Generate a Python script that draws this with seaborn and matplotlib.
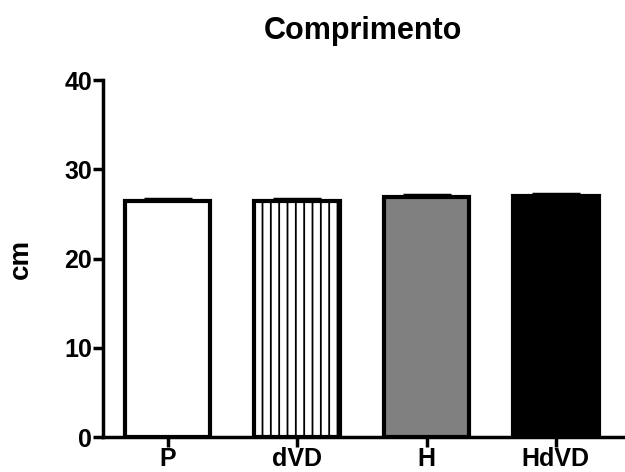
import numpy as np
import pandas as pd
import matplotlib
matplotlib.use("Agg")
import matplotlib.pyplot as plt
import seaborn as sns

# Values
groups = ["P", "dVD", "H", "HdVD"]
means = [26.5, 26.5, 26.9, 27.0]
sems = [0.2, 0.2, 0.2, 0.2]
fills = ["white", "white", "#808080", "black"]
hatches = ["", "||", "", ""]

sns.set_style("ticks")
plt.rcParams["font.family"] = ["Liberation Sans", "DejaVu Sans"]
plt.rcParams["hatch.linewidth"] = 1.3
plt.rcParams["hatch.color"] = "black"
plt.rcParams["text.color"] = "black"
plt.rcParams["axes.labelcolor"] = "black"
plt.rcParams["xtick.color"] = "black"
plt.rcParams["ytick.color"] = "black"
plt.rcParams["axes.edgecolor"] = "black"

df = pd.DataFrame({"group": groups, "cm": means})

fig = plt.figure(figsize=(6.25, 4.72), dpi=100)
ax = fig.add_axes([0.165, 0.074, 0.832, 0.756])

sns.barplot(data=df, x="group", y="cm", order=groups, width=0.66,
            errorbar=None, ax=ax, color="white")

for p, fc, h in zip(ax.patches, fills, hatches):
    p.set_facecolor(fc)
    p.set_edgecolor("black")
    p.set_linewidth(3)
    p.set_hatch(h)

# upper SEM only, Prism style
ax.errorbar(np.arange(len(groups)), means, yerr=[[0] * len(groups), sems],
            fmt="none", ecolor="black", elinewidth=2.5, capsize=17, capthick=2.5,
            zorder=0)

ax.set_xlim(-0.5, 3.52)
ax.set_ylim(0, 40)
ax.set_yticks([0, 10, 20, 30, 40])
ax.set_xlabel("")
ax.set_ylabel("cm", fontsize=20, fontweight="bold", labelpad=22)
ax.set_title("Comprimento", fontsize=22, fontweight="bold", pad=30)

for s in ["top", "right"]:
    ax.spines[s].set_visible(False)
for s in ["left", "bottom"]:
    ax.spines[s].set_linewidth(2.5)
ax.tick_params(axis="both", width=2.5, length=7, labelsize=18)
for lbl in ax.get_xticklabels() + ax.get_yticklabels():
    lbl.set_fontweight("bold")
ax.tick_params(axis="x", pad=0)
ax.tick_params(axis="y", pad=1)

fig.savefig("out.png", dpi=100)
